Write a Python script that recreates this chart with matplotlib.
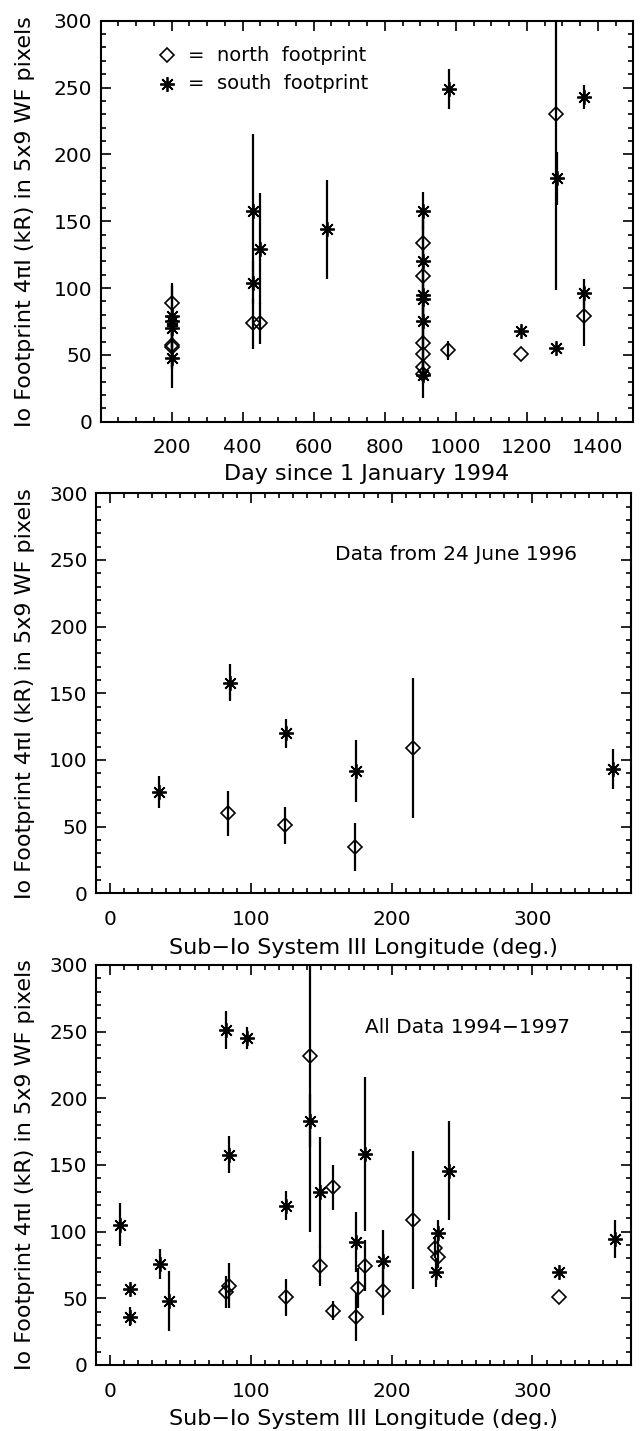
import matplotlib
matplotlib.use('Agg')
import matplotlib.pyplot as plt
from matplotlib.ticker import FixedLocator, MultipleLocator

# ---------------- Panel 1: brightness vs day ----------------
day_north = [200, 200, 200, 428, 450, 907, 907, 907, 907, 907, 907, 978, 1183, 1283, 1362]
val_north = [88.75, 57.5, 56, 73.5, 73.5, 133.75, 108.75, 58.75, 51, 41, 35.75, 53.5, 50.5, 230.5, 79]
err_north = [15, 18, 15, 19, 15, 17, 52, 17, 14, 7, 18, 7, 0, 132, 22]

day_south = [200, 200, 200, 200, 428, 428, 450, 636, 907, 907, 907, 907, 907, 907, 981, 1185, 1285, 1281, 1362, 1362]
val_south = [78.75, 75, 70, 47.5, 157.5, 104, 129.5, 144, 157.5, 120, 94.5, 92, 75, 35, 249, 68, 182, 55.5, 243, 96]
err_south = [23, 11, 0, 22.5, 58, 16, 41.5, 37, 14, 11, 14.5, 23, 12, 7, 15, 0, 20, 0, 9, 11]

# ---------------- Panel 2: 24 June 1996 ----------------
lon_north_96 = [84, 124.5, 174, 215]
val_north_96 = [60, 51, 35, 108.75]
err_north_96 = [17, 14, 18, 52.5]

lon_south_96 = [35, 85, 125, 174.5, 357.5]
val_south_96 = [76.25, 158, 120, 91.75, 93]
err_south_96 = [12, 14, 11, 23, 15]

# ---------------- Panel 3: all data ----------------
lon_north_all = [82.1, 84.5, 125, 141.7, 148.8, 158.3, 158.3, 174.5, 176.2, 181, 194, 215.5, 230.5, 233, 319]
val_north_all = [54.5, 59.5, 50.75, 232, 74.5, 133.25, 40.75, 35.75, 58, 74.5, 55.75, 108.75, 88, 81, 50.75]
err_north_all = [12, 17, 14, 132, 15, 17, 7, 18, 15, 19, 18, 52, 8, 8, 0]

lon_south_all = [7.1, 13.8, 13.8, 35.2, 41.9, 82.1, 97.6, 84.5, 125, 141.7, 148.8, 174.5, 181, 194, 232.9, 231.4, 241, 319, 358.8]
val_south_all = [105.25, 57, 36.25, 75.75, 47.75, 251.25, 245.25, 157.75, 119.5, 183.25, 129.5, 92, 158.25, 78.25, 98.75, 69.5, 145.75, 69.5, 94.5]
err_south_all = [16, 0, 7, 11, 22.5, 14.5, 8.5, 14, 11, 20, 41.5, 22.5, 58, 23, 10, 11, 37, 0, 14.5]

ylabel = "Io Footprint 4\u03c0I (kR) in 5x9 WF pixels"
xlabel_day = "Day since 1 January 1994"
xlabel_lon = "Sub\u2212Io System III Longitude (deg.)"

plt.rcParams['font.family'] = ['DejaVu Sans']
FS_TICK = 14.5
FS_LABEL = 16
FS_NOTE = 14.5
FS_LEG = 14

W, H = 642, 1431
fig = plt.figure(figsize=(W / 100, H / 100), dpi=100)

def px_axes(left, top, right, bottom):
    return fig.add_axes([left / W, 1 - bottom / H, (right - left) / W, (bottom - top) / H])

ax1 = px_axes(100.7, 20.7, 633.3, 421.7)
ax2 = px_axes(96, 493.3, 631, 893.3)
ax3 = px_axes(96, 965, 631, 1365)

star = (8, 2, 0)

def draw(ax, xn, yn, en, xs, ys, es):
    ax.errorbar(xn, yn, yerr=en, fmt='none', ecolor='k', elinewidth=1.6, capsize=0)
    ax.errorbar(xs, ys, yerr=es, fmt='none', ecolor='k', elinewidth=1.6, capsize=0)
    ax.plot(xn, yn, ls='none', marker='D', ms=6.8, mfc='none', mec='k', mew=1.2)
    ax.plot(xs, ys, ls='none', marker=star, ms=10.5, mec='k', mew=1.3)

def style(ax):
    ax.set_ylim(0, 300)
    ax.yaxis.set_major_locator(MultipleLocator(50))
    ax.yaxis.set_minor_locator(MultipleLocator(10))
    for s in ax.spines.values():
        s.set_linewidth(1.5)
    ax.tick_params(which='both', direction='in', top=True, right=True, width=1.2,
                   labelsize=FS_TICK)
    ax.tick_params(which='major', length=7)
    ax.tick_params(which='minor', length=3.5)
    ax.tick_params(axis='y', pad=6)
    ax.tick_params(axis='x', pad=12)

draw(ax1, day_north, val_north, err_north, day_south, val_south, err_south)
ax1.set_xlim(0, 1500)
ax1.xaxis.set_major_locator(FixedLocator(list(range(200, 1401, 200))))
ax1.xaxis.set_minor_locator(MultipleLocator(50))
style(ax1)

# legend drawn as in the original
ax1.plot([186], [274], ls='none', marker='D', ms=6.8, mfc='none', mec='k', mew=1.2)
ax1.plot([186], [253], ls='none', marker=star, ms=10.5, mec='k', mew=1.3)
ax1.text(245, 274, "=  north  footprint", fontsize=FS_LEG, va='center', ha='left')
ax1.text(245, 253, "=  south  footprint", fontsize=FS_LEG, va='center', ha='left')

draw(ax2, lon_north_96, val_north_96, err_north_96, lon_south_96, val_south_96, err_south_96)
draw(ax3, lon_north_all, val_north_all, err_north_all, lon_south_all, val_south_all, err_south_all)
for ax in (ax2, ax3):
    ax.set_xlim(-10, 370)
    ax.xaxis.set_major_locator(FixedLocator([0, 100, 200, 300]))
    ax.xaxis.set_minor_locator(MultipleLocator(10))
    style(ax)

ax2.text(160, 254, "Data from 24 June 1996", fontsize=FS_NOTE, va='center', ha='left')
ax3.text(181, 253, "All Data 1994\u22121997", fontsize=FS_NOTE, va='center', ha='left')

# axis labels
fig.text(367 / W, 1 - 474 / H, xlabel_day, fontsize=FS_LABEL, ha='center', va='center')
fig.text(363.5 / W, 1 - 948 / H, xlabel_lon, fontsize=FS_LABEL, ha='center', va='center')
fig.text(363.5 / W, 1 - 1419 / H, xlabel_lon, fontsize=FS_LABEL, ha='center', va='center')
for yc in (221.2, 693.3, 1165):
    fig.text(25 / W, 1 - yc / H, ylabel, fontsize=FS_LABEL, ha='center', va='center', rotation=90)

fig.savefig('out.png', dpi=100)
